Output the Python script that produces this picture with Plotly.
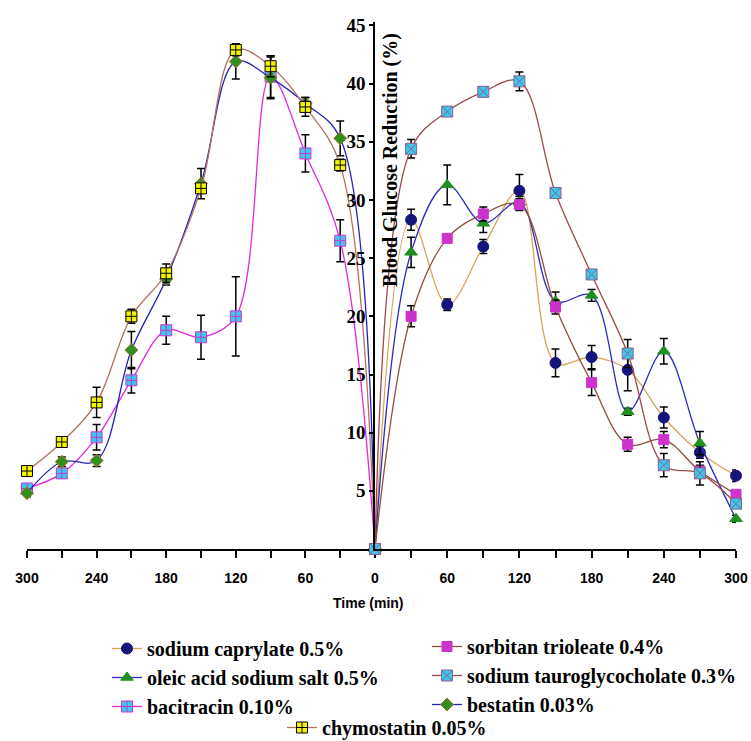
import plotly.graph_objects as go

# ---------------- data ----------------
t_left = [300, 270, 240, 210, 180, 150, 120, 90, 60, 30, 0]
t_right = [0, 30, 60, 90, 120, 150, 180, 210, 240, 270, 300]

bacitracin = [5.2, 6.5, 9.6, 14.5, 18.8, 18.2, 20.0, 40.6, 34.0, 26.5, 0]
bacitracin_err = [0.3, 0.4, 1.1, 1.1, 1.2, 1.9, 3.4, 1.8, 1.6, 1.8, 0]
bestatin = [4.8, 7.5, 7.6, 17.1, 23.2, 31.4, 41.9, 40.5, 38.3, 35.3, 0]
bestatin_err = [0.3, 0.4, 0.5, 1.6, 0.5, 1.3, 1.5, 1.8, 0.5, 1.5, 0]
chymostatin = [6.7, 9.2, 12.6, 20.0, 23.7, 31.0, 42.9, 41.5, 38.0, 33.0, 0]
chymostatin_err = [0.4, 0.3, 1.3, 0.6, 0.8, 0.3, 0.5, 0.9, 0.8, 0.5, 0]

caprylate = [0, 28.3, 21.0, 26.0, 30.8, 16.0, 16.5, 15.4, 11.3, 8.3, 6.3]
caprylate_err = [0, 0.9, 0.5, 0.6, 1.4, 1.2, 1.0, 1.8, 0.9, 0.5, 0.5]
oleic = [0, 25.5, 31.3, 28.0, 29.8, 21.3, 21.8, 11.8, 17.0, 9.1, 2.6]
oleic_err = [0, 1.3, 1.7, 0.8, 0.5, 0.8, 0.5, 0.3, 1.1, 1.0, 0.3]
sorbitan = [0, 20.0, 26.7, 28.8, 29.6, 20.8, 14.3, 9.0, 9.4, 6.7, 4.7]
sorbitan_err = [0, 0.9, 0.3, 0.6, 0.5, 0.6, 1.1, 0.6, 0.7, 0.5, 0.3]
tauro = [0, 34.4, 37.6, 39.3, 40.2, 30.6, 23.6, 16.8, 7.2, 6.5, 3.9]
tauro_err = [0, 0.8, 0.4, 0.4, 0.8, 0.3, 0.3, 1.2, 1.0, 1.0, 0.3]

left_ticks = [300, 270, 240, 210, 180, 150, 120, 90, 60, 30, 0]
right_ticks = [30, 60, 90, 120, 150, 180, 210, 240, 270, 300]
y_ticks = [5, 10, 15, 20, 25, 30, 35, 40, 45]

# ---------------- figure ----------------
SERIF = "Liberation Serif"
SANS = "Liberation Sans"
W, H = 751, 741

fig = go.Figure()


def add(name, x, y, err, xaxis, line_color, symbol, mcolor, mline, size, legend, lw=1.3):
    fig.add_trace(go.Scatter(
        x=x, y=y, name=name, xaxis=xaxis, yaxis="y", mode="lines+markers",
        line=dict(color=line_color, width=lw, shape="spline", smoothing=1.0),
        marker=dict(symbol=symbol, color=mcolor, size=size,
                    line=dict(color=mline, width=1)),
        error_y=dict(type="data", array=err, color="black", thickness=1.5, width=4),
        cliponaxis=False, legend=legend,
    ))


# right side
add("sodium caprylate 0.5%", t_right, caprylate, caprylate_err, "x2",
    "#d9a55a", "circle", "#14147a", "#14147a", 11, "legend")
add("oleic acid sodium salt 0.5%", t_right, oleic, oleic_err, "x2",
    "#2a2ac4", "triangle-up", "#1f8f1f", "#1f8f1f", 11, "legend")
add("sorbitan trioleate 0.4%", t_right, sorbitan, sorbitan_err, "x2",
    "#8c4f3c", "square", "#cc33cc", "#cc33cc", 10, "legend2")
add("sodium tauroglycocholate 0.3%", t_right, tauro, tauro_err, "x2",
    "#a04848", "square-x", "#3cc8ec", "#8a6090", 11, "legend2")
# left side
add("bacitracin 0.10%", t_left, bacitracin, bacitracin_err, "x",
    "#e028e0", "square-cross", "#3cc8ec", "#cc33cc", 11, "legend")
add("bestatin 0.03%", t_left, bestatin, bestatin_err, "x",
    "#2323b8", "diamond", "#2f8f1f", "#b07030", 10, "legend2")
add("chymostatin 0.05%", t_left, chymostatin, chymostatin_err, "x",
    "#b4705c", "square-cross", "#f4f400", "black", 11, "legend3")

PLOT_L, PLOT_R, PLOT_T, PLOT_B = 27, 736, 22, 549
PW, PH = PLOT_R - PLOT_L, PLOT_B - PLOT_T
split = (375 - PLOT_L) / PW

tickfont_x = dict(family=SANS, size=14, color="black", weight="bold")
axis_common = dict(showline=True, linecolor="black", linewidth=1.5, ticks="outside",
                   ticklen=7, tickwidth=1.5, tickcolor="black", showgrid=False,
                   zeroline=False, tickfont=tickfont_x, automargin=False,
                   ticklabelstandoff=8)

legend_font = dict(family=SERIF, size=20, color="black", weight="bold")

fig.update_layout(
    width=W, height=H,
    margin=dict(l=PLOT_L, r=W - PLOT_R, t=PLOT_T, b=H - PLOT_B, autoexpand=False),
    paper_bgcolor="white", plot_bgcolor="white",
    xaxis=dict(domain=[0, split], range=[300, 0], anchor="y",
               tickmode="array", tickvals=left_ticks,
               ticktext=[str(v) if v % 60 == 0 else "" for v in left_ticks],
               **axis_common),
    xaxis2=dict(domain=[split, 1], range=[0, 300], anchor="y",
                tickmode="array", tickvals=right_ticks,
                ticktext=[str(v) if v % 60 == 0 else "" for v in right_ticks],
                **axis_common),
    yaxis=dict(anchor="x2", range=[0, 45.3], side="left",
               tickmode="array", tickvals=y_ticks,
               showline=True, linecolor="black", linewidth=1.5, ticks="outside",
               ticklen=4, tickwidth=1.5, tickcolor="black", showgrid=False,
               zeroline=False, automargin=False,
               tickfont=dict(family=SERIF, size=19, color="black", weight="bold")),
    legend=dict(xref="container", yref="container", x=107 / W, y=1 - 629 / H,
                xanchor="left", yanchor="top", font=legend_font,
                bgcolor="rgba(0,0,0,0)"),
    legend2=dict(xref="container", yref="container", x=427 / W, y=1 - 627 / H,
                 xanchor="left", yanchor="top", font=legend_font,
                 bgcolor="rgba(0,0,0,0)"),
    legend3=dict(xref="container", yref="container", x=282 / W, y=1 - 708 / H,
                 xanchor="left", yanchor="top", font=legend_font,
                 bgcolor="rgba(0,0,0,0)"),
    annotations=[
        dict(text="Blood Glucose Reduction (%)", textangle=-90, showarrow=False,
             xref="paper", yref="paper", x=split + 15 / PW, y=(PLOT_B - 160) / PH,
             xanchor="center", yanchor="middle",
             font=dict(family=SERIF, size=20, color="black", weight="bold")),
        dict(text="Time (min)", showarrow=False, xref="paper", yref="paper",
             x=(368 - PLOT_L) / PW, y=-(603 - PLOT_B) / PH, xanchor="center",
             yanchor="middle",
             font=dict(family=SANS, size=14, color="black", weight="bold")),
    ],
)

fig.write_html("out.html")
